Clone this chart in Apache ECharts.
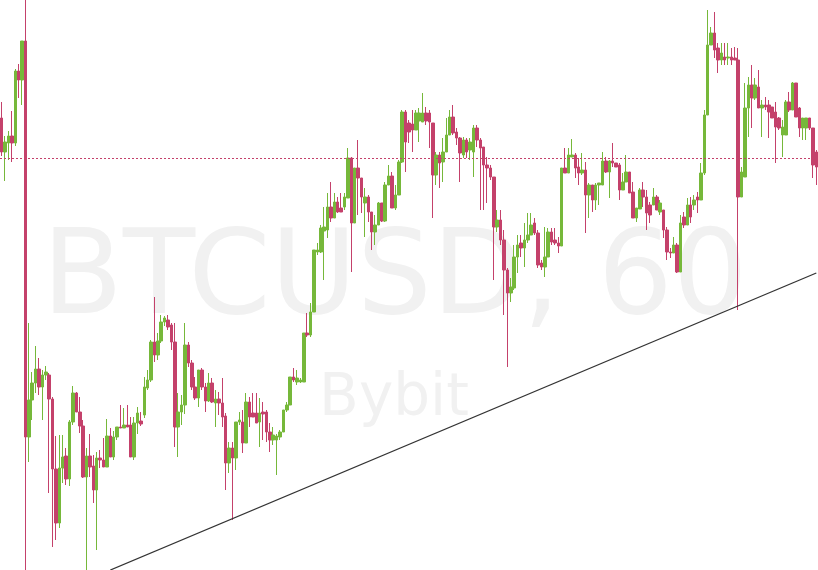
<!DOCTYPE html>
<html>
<head>
<meta charset="utf-8">
<script src="https://cdn.jsdelivr.net/npm/echarts@6/dist/echarts.min.js"></script>
<style>
html,body{margin:0;padding:0;background:#ffffff;}
#chart{width:818px;height:570px;}
</style>
</head>
<body>
<div id="chart"></div>
<script>
// BTCUSD 60-minute candles
const opens = [
9882,9848,9857,9864,9857,9929,9920,9959,9563,9600,
9617,9631,9613,9625,9625,9601,9531,9477,9532,9544,
9521,9578,9607,9588,9574,9523,9544,9534,9510,9542,
9540,9533,9564,9543,9563,9573,9572,9575,9575,9543,
9577,9579,9585,9612,9620,9658,9645,9659,9678,9680,
9675,9658,9573,9588,9595,9655,9637,9613,9602,9630,
9613,9599,9617,9597,9601,9597,9584,9537,9552,9542,
9578,9578,9557,9598,9587,9587,9578,9588,9588,9568,
9560,9560,9563,9568,9590,9595,9623,9618,9618,9618,
9667,9665,9688,9748,9748,9769,9770,9793,9782,9798,
9792,9793,9802,9842,9777,9832,9822,9797,9803,9788,
9768,9775,9797,9779,9815,9824,9792,9805,9838,9888,
9877,9876,9870,9879,9878,9887,9887,9877,9825,9845,
9838,9848,9865,9883,9868,9862,9845,9860,9850,9848,
9872,9860,9853,9835,9832,9823,9773,9780,9760,9730,
9707,9712,9743,9757,9752,9760,9765,9777,9767,9737,
9733,9743,9768,9760,9757,9754,9832,9827,9843,9845,
9833,9827,9830,9805,9815,9800,9815,9815,9839,9828,
9839,9837,9835,9810,9818,9828,9808,9782,9791,9810,
9803,9795,9795,9803,9788,9790,9770,9748,9747,9755,
9728,9783,9775,9795,9795,9803,9800,9827,9885,9955,
9967,9952,9940,9943,9942,9943,9942,9940,9803,9823,
9892,9915,9902,9913,9892,9895,9895,9893,9888,9882,
9865,9865,9898,9890,9917,9892,9872,9872,9882,9872,
9848
];
const closes = [
9848,9858,9864,9857,9929,9920,9959,9563,9600,9617,
9631,9613,9625,9628,9601,9531,9477,9532,9543,9521,
9578,9607,9588,9574,9523,9544,9533,9510,9542,9540,
9533,9564,9543,9563,9573,9572,9575,9573,9543,9577,
9587,9576,9613,9620,9658,9645,9659,9678,9682,9673,
9658,9573,9588,9595,9655,9637,9613,9602,9630,9613,
9599,9617,9598,9601,9597,9583,9537,9552,9542,9578,
9580,9557,9598,9583,9583,9577,9587,9586,9568,9560,
9565,9564,9568,9590,9595,9623,9620,9622,9620,9667,
9665,9688,9750,9750,9772,9773,9793,9782,9798,9788,
9788,9803,9842,9777,9832,9822,9803,9803,9788,9768,
9775,9797,9779,9815,9824,9792,9805,9838,9888,9858,
9868,9870,9887,9887,9887,9879,9878,9825,9845,9837,
9848,9865,9883,9867,9862,9847,9860,9848,9858,9872,
9860,9852,9835,9832,9823,9773,9780,9760,9730,9707,
9713,9743,9755,9752,9760,9765,9775,9767,9735,9733,
9743,9768,9758,9757,9754,9832,9827,9845,9845,9832,
9827,9830,9805,9815,9800,9815,9817,9839,9828,9839,
9837,9833,9810,9818,9828,9807,9782,9792,9810,9803,
9787,9785,9803,9790,9797,9770,9748,9747,9755,9728,
9777,9775,9795,9783,9800,9800,9827,9885,9955,9967,
9950,9940,9947,9940,9943,9940,9940,9803,9828,9892,
9915,9902,9915,9892,9895,9893,9888,9882,9873,9872,
9873,9898,9890,9917,9883,9872,9882,9882,9872,9835,
9833
];
const lows = [
9844,9819,9840,9838,9854,9902,9895,9420,9538,9580,
9607,9605,9580,9620,9507,9453,9460,9472,9517,9515,
9514,9575,9588,9567,9522,9430,9523,9497,9450,9532,
9533,9533,9543,9540,9560,9572,9572,9573,9543,9540,
9566,9574,9582,9610,9618,9638,9640,9657,9674,9670,
9650,9553,9543,9575,9586,9633,9610,9600,9593,9610,
9588,9598,9597,9573,9585,9573,9510,9527,9480,9530,
9575,9547,9557,9573,9583,9577,9553,9560,9558,9548,
9555,9525,9560,9568,9588,9595,9618,9615,9617,9618,
9663,9663,9688,9745,9747,9720,9762,9778,9782,9787,
9788,9790,9802,9728,9777,9785,9787,9763,9778,9750,
9755,9775,9778,9778,9815,9792,9790,9805,9837,9828,
9857,9848,9870,9858,9878,9875,9852,9782,9815,9812,
9818,9848,9865,9865,9855,9818,9842,9842,9840,9823,
9853,9790,9790,9797,9820,9720,9768,9755,9685,9633,
9698,9710,9727,9743,9733,9757,9765,9765,9732,9730,
9723,9743,9755,9755,9747,9754,9827,9827,9843,9822,
9815,9825,9767,9782,9788,9790,9795,9815,9827,9802,
9833,9833,9800,9810,9818,9807,9782,9778,9791,9793,
9770,9777,9795,9790,9785,9762,9740,9742,9747,9727,
9728,9772,9775,9777,9790,9787,9800,9825,9885,9955,
9942,9927,9935,9935,9935,9935,9940,9690,9803,9823,
9863,9872,9900,9892,9863,9890,9862,9882,9837,9870,
9843,9865,9888,9890,9883,9863,9860,9860,9870,9822,
9815
];
const highs = [
9898,9864,9869,9889,9931,9936,9959,10005,9677,9628,
9654,9642,9630,9634,9627,9603,9564,9565,9565,9552,
9580,9614,9608,9603,9580,9552,9566,9545,9548,9550,
9562,9581,9572,9569,9573,9595,9592,9595,9583,9583,
9593,9588,9623,9630,9660,9703,9667,9685,9684,9685,
9677,9677,9607,9605,9677,9658,9640,9623,9630,9632,
9617,9627,9622,9610,9608,9622,9587,9558,9558,9578,
9588,9590,9607,9603,9607,9607,9602,9598,9590,9577,
9573,9566,9570,9590,9598,9623,9632,9630,9622,9667,
9687,9697,9750,9757,9775,9793,9807,9818,9807,9803,
9807,9807,9852,9843,9832,9860,9822,9812,9805,9788,
9785,9798,9797,9818,9835,9828,9815,9840,9890,9890,
9880,9890,9890,9892,9907,9893,9890,9877,9848,9848,
9862,9882,9890,9895,9872,9863,9863,9862,9862,9875,
9875,9862,9853,9843,9835,9823,9790,9790,9770,9732,
9722,9755,9765,9765,9777,9787,9787,9782,9770,9740,
9773,9772,9772,9772,9763,9832,9852,9852,9861,9847,
9842,9847,9838,9817,9815,9817,9817,9848,9843,9840,
9857,9837,9837,9827,9845,9828,9818,9792,9812,9818,
9810,9798,9812,9805,9800,9790,9773,9752,9763,9757,
9785,9788,9802,9803,9805,9808,9837,9890,9990,9973,
9988,9957,9957,9957,9957,9952,9953,9952,9833,9917,
9923,9935,9922,9930,9900,9903,9900,9893,9898,9883,
9880,9900,9908,9918,9917,9893,9882,9882,9882,9872,
9850
];
// horizontal dotted price level and trend line anchors (candle index, price)
const priceLevel = 9842;
const trendStart = [32, 9430];
const trendEnd = [240, 9727];
const watermarkMain = 'BTCUSD, 60';
const watermarkSub = 'Bybit';

const categories = opens.map((_, i) => 'h' + i);
const ohlc = opens.map((o, i) => [o, closes[i], lows[i], highs[i]]);

const UP = '#76b83a';
const DOWN = '#c4416b';

const chart = echarts.init(document.getElementById('chart'), null, {renderer: 'canvas'});
chart.setOption({
  animation: false,
  backgroundColor: '#ffffff',
  grid: {left: 0, right: 0, top: 0, bottom: 0},
  xAxis: {type: 'category', data: categories, boundaryGap: true, show: false},
  yAxis: {type: 'value', min: 9430, max: 10000, show: false},
  graphic: [
    {type: 'text', z: 0, x: 395, y: 282,
     style: {text: watermarkMain, font: '118px "DejaVu Sans"', fill: '#f1f1f1', textAlign: 'center', textVerticalAlign: 'middle'}},
    {type: 'text', z: 0, x: 394, y: 400,
     style: {text: watermarkSub, font: '58px "DejaVu Sans"', fill: '#f1f1f1', textAlign: 'center', textVerticalAlign: 'middle'}}
  ],
  series: [
    {
      type: 'candlestick',
      data: ohlc,
      barWidth: 3,
      z: 3,
      itemStyle: {color: UP, color0: DOWN, borderColor: UP, borderColor0: DOWN, borderWidth: 1},
      markLine: {
        silent: true, symbol: 'none', animation: false,
        label: {show: false},
        lineStyle: {color: '#c4416b', type: [2, 2], width: 1},
        data: [{yAxis: priceLevel}]
      }
    },
    {
      type: 'line',
      data: [trendStart, trendEnd],
      showSymbol: false,
      symbol: 'none',
      z: 4,
      lineStyle: {color: '#333333', width: 1.3},
      silent: true
    }
  ]
});
</script>
</body>
</html>
